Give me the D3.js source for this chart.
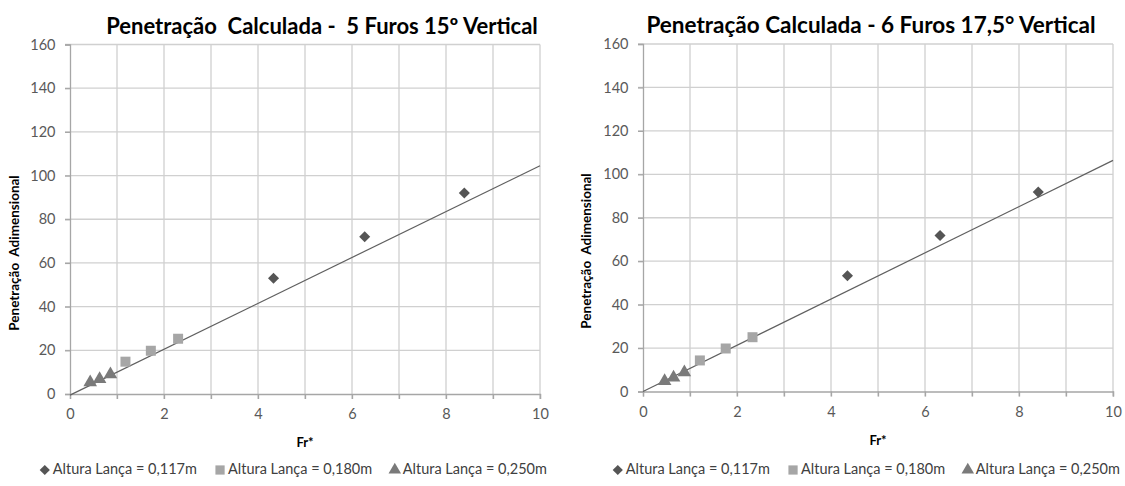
<!DOCTYPE html>
<html><head><meta charset="utf-8">
<script src="https://cdn.jsdelivr.net/npm/d3@7"></script>
<style>
html,body{margin:0;padding:0;background:#fff;}
text{font-family:Lato,"Open Sans",sans-serif;white-space:pre;}
</style></head>
<body>
<svg id="c" width="1125" height="486"></svg>
<script>
// ---- Data ----
const titles = ["Penetração  Calculada -  5 Furos 15º Vertical", "Penetração Calculada - 6 Furos 17,5° Vertical"];
const yLabel = "Penetração  Adimensional";
const xLabel = "Fr*";
const seriesNames = ["Altura Lança = 0,117m", "Altura Lança = 0,180m", "Altura Lança = 0,250m"];
const xTicks = [0, 2, 4, 6, 8, 10];
const yTicks = [0, 20, 40, 60, 80, 100, 120, 140, 160];

// chart 1 (5 furos 15º)
const c1_fr117 = [4.33, 6.27, 8.39], c1_pen117 = [53, 72, 92];
const c1_fr180 = [1.18, 1.72, 2.30], c1_pen180 = [14.8, 19.8, 25.3];
const c1_fr250 = [0.43, 0.63, 0.86], c1_pen250 = [5.3, 6.8, 9.0];
const c1_trendX = [0, 10], c1_trendY = [-0.5, 104.5];

// chart 2 (6 furos 17,5º)
const c2_fr117 = [4.35, 6.32, 8.41], c2_pen117 = [53.3, 71.8, 91.8];
const c2_fr180 = [1.21, 1.76, 2.33], c2_pen180 = [14.3, 19.8, 25.0];
const c2_fr250 = [0.46, 0.65, 0.88], c2_pen250 = [4.8, 6.4, 8.8];
const c2_trendX = [0, 10], c2_trendY = [0, 106.4];

const charts = [
  {title: titles[0], series:[[c1_fr117,c1_pen117],[c1_fr180,c1_pen180],[c1_fr250,c1_pen250]], trend:[c1_trendX,c1_trendY],
   L:70, R:540, T:44.5, B:394, titleX:322, titleY:34, titleSize:22, yLabX:16, yLabY:253, legY:470},
  {title: titles[1], series:[[c2_fr117,c2_pen117],[c2_fr180,c2_pen180],[c2_fr250,c2_pen250]], trend:[c2_trendX,c2_trendY],
   L:643, R:1113, T:44, B:391.5, titleX:871, titleY:33, titleSize:22.5, yLabX:588, yLabY:251, legY:470}
];

const markerColors = ["#555555", "#a6a6a6", "#7a7a7a"];
const markerTypes = [d3.symbolDiamond2 || d3.symbolDiamond, d3.symbolSquare, d3.symbolTriangle];
const markerSizes = [78, 100, 80];

const svg = d3.select("#c");

charts.forEach(ch => {
  const g = svg.append("g");
  const x = d3.scaleLinear().domain([0, 10]).range([ch.L, ch.R]);
  const y = d3.scaleLinear().domain([0, 160]).range([ch.B, ch.T]);

  // gridlines
  g.append("g").selectAll("line.v").data(d3.range(1, 11)).join("line")
    .attr("x1", d => x(d)).attr("x2", d => x(d)).attr("y1", y(160)).attr("y2", y(0) + 5)
    .attr("stroke", "#d0d0d0").attr("stroke-width", 1.3);
  g.append("g").selectAll("line.h").data(yTicks.slice(1)).join("line")
    .attr("x1", x(0) - 5).attr("x2", x(10)).attr("y1", d => y(d)).attr("y2", d => y(d))
    .attr("stroke", "#d0d0d0").attr("stroke-width", 1.3);

  // axes
  const xa = g.append("g").attr("transform", `translate(0,${y(0)})`)
    .call(d3.axisBottom(x).tickValues(d3.range(0, 11)).tickSize(5).tickFormat(d => xTicks.includes(d) ? d : ""));
  const ya = g.append("g").attr("transform", `translate(${x(0)},0)`)
    .call(d3.axisLeft(y).tickValues(yTicks).tickSize(5));
  [xa, ya].forEach(a => {
    a.select(".domain").attr("stroke", "#a6a6a6").attr("stroke-width", 1.3);
    a.selectAll(".tick line").attr("stroke", "#a6a6a6").attr("stroke-width", 1.3);
    a.selectAll(".tick text").attr("fill", "#595959").attr("font-size", 14.5).attr("font-family", "Lato");
  });
  xa.selectAll(".tick text").attr("dy", "1.2em");
  ya.selectAll(".tick text").attr("dx", "-0.45em");

  // trendline
  g.append("path")
    .datum(ch.trend[0].map((v, i) => [v, ch.trend[1][i]]))
    .attr("d", d3.line().x(d => x(d[0])).y(d => y(d[1])))
    .attr("stroke", "#606060").attr("stroke-width", 1.2).attr("fill", "none");

  // markers
  ch.series.forEach((s, si) => {
    const pts = s[0].map((v, i) => [v, s[1][i]]);
    g.append("g").selectAll("path").data(pts).join("path")
      .attr("d", d3.symbol().type(markerTypes[si]).size(markerSizes[si]))
      .attr("transform", d => `translate(${x(d[0])},${y(d[1])})`)
      .attr("fill", markerColors[si]);
  });

  // title
  g.append("text").attr("x", ch.titleX).attr("y", ch.titleY).attr("text-anchor", "middle")
    .attr("font-weight", "bold").attr("font-size", ch.titleSize).attr("fill", "#000").text(ch.title);
  // axis titles
  g.append("text").attr("transform", `translate(${ch.yLabX},${ch.yLabY}) rotate(-90)`)
    .attr("text-anchor", "middle").attr("dominant-baseline", "middle")
    .attr("font-weight", "bold").attr("font-size", 13.5).attr("fill", "#000").text(yLabel);
  g.append("text").attr("x", (ch.L + ch.R) / 2).attr("y", ch.B + 53).attr("text-anchor", "middle")
    .attr("font-weight", "bold").attr("font-size", 13).attr("fill", "#000").text(xLabel);

  // legend
  const leg = g.append("g");
  const items = leg.selectAll("g").data(seriesNames).join("g");
  items.append("path")
    .attr("d", (d, i) => d3.symbol().type(markerTypes[i]).size(markerSizes[i] * 0.85)())
    .attr("fill", (d, i) => markerColors[i]);
  items.append("text").attr("x", 8).attr("dominant-baseline", "middle")
    .attr("font-size", 14.5).attr("fill", "#404040").text(d => d);
  const gap = 18;
  const widths = [];
  items.each(function(){ widths.push(this.getBBox().width); });
  const total = d3.sum(widths) + gap * (widths.length - 1);
  const start = (ch.L + ch.R) / 2 - total / 2 - 10;
  items.attr("transform", (d, i) => {
    const tx = start + 4 + d3.sum(widths.slice(0, i)) + gap * i;
    return `translate(${tx},${ch.legY})`;
  });
});
</script>
</body></html>
